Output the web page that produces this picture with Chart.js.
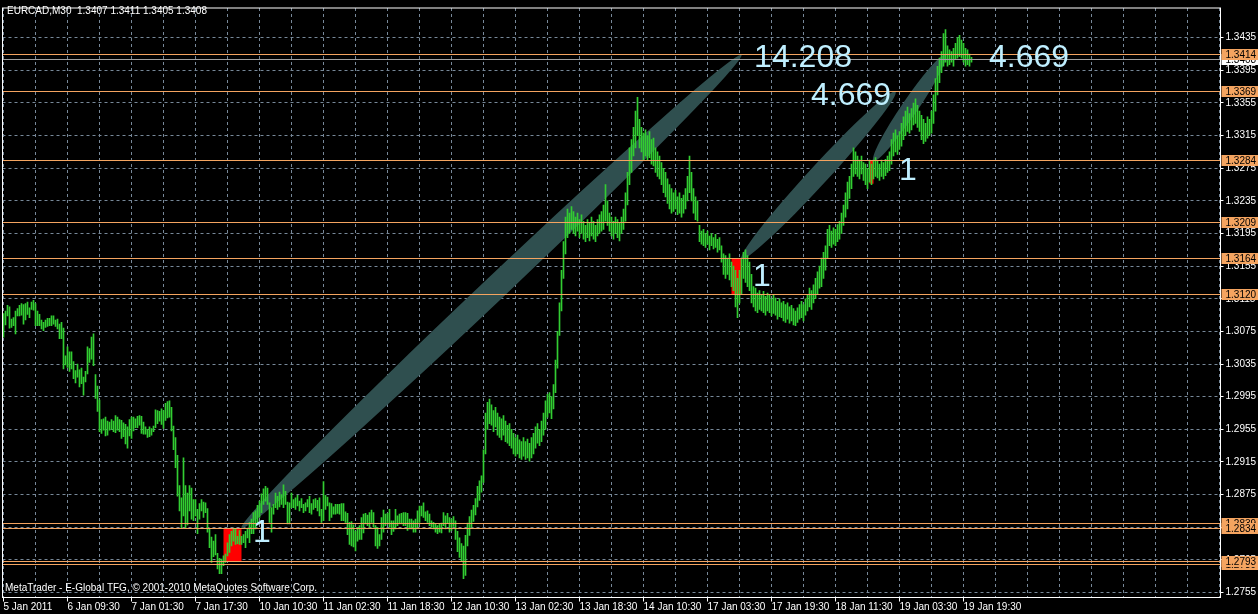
<html>
<head>
<meta charset="UTF-8">
<script src="https://cdn.jsdelivr.net/npm/chart.js@4.4.0/dist/chart.umd.min.js"></script>
<style>
  body { margin: 0; background: #000; }
  canvas { display: block; }
</style>
</head>
<body>
<canvas id="chart" width="1258" height="614"></canvas>
<script>
// EURCAD M30, one slot per bar, empty slots on the right (chart shift)
const slotCount = 609;
const tickLabels = ['5 Jan 2011', '6 Jan 09:30', '7 Jan 01:30', '7 Jan 17:30', '10 Jan 10:30', '11 Jan 02:30',
  '11 Jan 18:30', '12 Jan 10:30', '13 Jan 02:30', '13 Jan 18:30', '14 Jan 10:30', '17 Jan 03:30',
  '17 Jan 19:30', '18 Jan 11:30', '19 Jan 03:30', '19 Jan 19:30'];
const priceTicks = [1.2755, 1.2795, 1.2835, 1.2875, 1.2915, 1.2955, 1.2995, 1.3035, 1.3075, 1.3115,
  1.3155, 1.3195, 1.3235, 1.3275, 1.3315, 1.3355, 1.3395, 1.3435];
const lastQuote = [1.3407, 1.3411, 1.3405, 1.3408];

const highs = [
  1.3097,1.3100,1.3107,1.3105,1.3090,1.3092,1.3100,1.3103,1.3107,1.3109,
  1.3108,1.3109,1.3111,1.3104,1.3111,1.3113,1.3109,1.3100,1.3096,1.3089,
  1.3086,1.3089,1.3091,1.3091,1.3094,1.3094,1.3089,1.3090,1.3084,1.3086,
  1.3079,1.3045,1.3056,1.3050,1.3050,1.3038,1.3027,1.3035,1.3028,1.3030,
  1.3019,1.3026,1.3056,1.3054,1.3068,1.3072,1.3022,1.3008,1.2991,
  1.2967,1.2968,1.2970,1.2965,1.2964,1.2967,1.2965,1.2972,1.2970,1.2967,
  1.2966,1.2963,1.2961,1.2958,1.2967,1.2970,1.2970,1.2968,1.2971,1.2972,
  1.2971,1.2964,1.2958,1.2955,1.2958,1.2956,1.2959,1.2979,1.2978,1.2977,
  1.2980,1.2978,1.2987,1.2989,1.2990,1.2982,1.2959,1.2945,1.2923,1.2886,
  1.2871,1.2920,1.2886,1.2877,1.2886,1.2883,1.2869,1.2869,1.2857,1.2864,
  1.2869,1.2866,1.2865,1.2858,1.2833,1.2823,1.2818,1.2826,1.2803,1.2797,
  1.2796,1.2800,1.2802,1.2816,1.2826,1.2830,1.2834,1.2833,1.2824,1.2831,
  1.2824,1.2826,1.2830,1.2834,1.2841,1.2845,1.2853,1.2855,1.2862,1.2867,
  1.2876,1.2882,1.2885,1.2883,1.2865,1.2859,1.2863,1.2877,1.2873,1.2878,
  1.2875,1.2887,1.2879,1.2866,1.2865,1.2877,1.2869,1.2871,1.2874,1.2867,
  1.2870,1.2863,1.2865,1.2869,1.2873,1.2864,1.2869,1.2870,1.2868,1.2871,
  1.2857,1.2891,1.2874,1.2872,1.2865,1.2864,1.2860,1.2863,1.2863,1.2863,
  1.2864,1.2864,1.2854,1.2852,1.2841,1.2842,1.2838,1.2830,1.2835,1.2837,
  1.2847,1.2851,1.2852,1.2850,1.2853,1.2856,1.2853,1.2837,1.2835,1.2826,
  1.2847,1.2856,1.2851,1.2852,1.2857,1.2843,1.2843,1.2857,1.2849,1.2851,
  1.2852,1.2853,1.2853,1.2852,1.2845,1.2845,1.2843,1.2845,1.2855,1.2861,
  1.2861,1.2865,1.2854,1.2855,1.2851,1.2843,1.2841,1.2839,1.2837,1.2839,
  1.2840,
  1.2853,1.2849,1.2852,1.2847,1.2845,1.2848,1.2843,1.2830,1.2822,1.2815,
  1.2812,1.2825,1.2840,1.2848,1.2856,1.2862,1.2870,1.2885,1.2892,1.2898,
  1.2930,1.2975,1.2988,1.2992,1.2985,1.2978,1.2982,1.2975,1.2970,1.2968,
  1.2972,1.2965,1.2960,1.2962,1.2955,1.2950,1.2945,1.2948,1.2942,1.2940,
  1.2945,1.2940,1.2943,1.2938,1.2945,1.2950,1.2958,1.2962,1.2955,1.2965,
  1.2975,1.2990,1.2998,1.3000,1.2995,1.3010,1.3040,1.3075,1.3110,1.3150,
  1.3185,1.3215,1.3225,1.3220,1.3228,1.3222,1.3215,1.3220,1.3212,1.3218,
  1.3210,1.3205,1.3212,1.3208,1.3215,1.3210,1.3205,1.3212,1.3218,1.3222,
  1.3230,1.3255,1.3235,1.3220,1.3215,1.3210,1.3215,1.3212,1.3208,1.3215,
  1.3225,1.3245,1.3270,1.3300,1.3310,1.3325,1.3345,1.3362,1.3335,1.3325,
  1.3318,1.3322,1.3315,1.3320,1.3310,1.3312,1.3300,1.3295,1.3290,1.3282,
  1.3275,1.3270,1.3262,1.3255,1.3250,1.3245,1.3248,1.3240,1.3245,1.3238,
  1.3242,1.3250,1.3265,1.3290,1.3270,1.3250,1.3240,1.3235,1.3205,1.3198,
  1.3200,1.3195,1.3198,1.3192,1.3195,1.3190,1.3194,1.3188,1.3190,1.3180,
  1.3170,1.3168,1.3165,1.3170,1.3160,1.3155,1.3150,1.3140,1.3150,1.3165,
  1.3172,1.3175,1.3168,1.3160,1.3145,1.3130,1.3128,1.3122,1.3125,1.3120,
  1.3124,1.3118,1.3122,1.3120,1.3115,1.3120,1.3116,1.3112,1.3115,1.3110,
  1.3112,1.3108,1.3110,1.3105,1.3107,1.3103,1.3100,1.3104,1.3108,1.3112,
  1.3108,1.3115,1.3120,1.3128,1.3125,1.3132,1.3140,1.3148,1.3155,1.3165,
  1.3172,1.3180,1.3200,1.3205,1.3198,1.3202,1.3200,1.3206,1.3210,1.3220,
  1.3230,1.3245,1.3258,1.3265,1.3280,1.3300,1.3295,1.3290,1.3285,1.3290,
  1.3282,1.3280,1.3275,1.3285,1.3280,1.3285,1.3288,1.3284,1.3280,1.3285,
  1.3282,1.3286,1.3290,1.3295,1.3310,1.3318,1.3322,1.3315,1.3320,1.3330,
  1.3338,1.3345,1.3350,1.3342,1.3348,1.3355,1.3360,1.3352,1.3345,1.3340,
  1.3335,1.3330,1.3338,1.3335,1.3345,1.3365,1.3385,1.3400,1.3410,1.3418,
  1.3440,1.3445,1.3425,1.3420,1.3418,1.3422,1.3428,1.3435,1.3438,1.3432,
  1.3428,1.3422,1.3420,1.3415,1.3411
];
const lows = [
  1.3068,1.3083,1.3094,1.3079,1.3080,1.3082,1.3072,1.3094,1.3094,1.3095,
  1.3084,1.3089,1.3096,1.3092,1.3102,1.3101,1.3082,1.3082,1.3082,1.3078,
  1.3076,1.3080,1.3081,1.3082,1.3082,1.3084,1.3081,1.3078,1.3066,1.3066,
  1.3029,1.3034,1.3031,1.3026,1.3029,1.3017,1.3012,1.3019,1.3007,1.3011,
  1.2997,1.3013,1.3023,1.3037,1.3041,1.3033,1.2993,1.2977,1.2952,
  1.2950,1.2954,1.2947,1.2948,1.2954,1.2955,1.2952,1.2951,1.2954,1.2952,
  1.2944,1.2946,1.2937,1.2932,1.2947,1.2944,1.2953,1.2957,1.2957,1.2960,
  1.2950,1.2949,1.2949,1.2945,1.2946,1.2948,1.2952,1.2957,1.2962,1.2965,
  1.2961,1.2956,1.2966,1.2969,1.2970,1.2953,1.2930,1.2908,1.2873,1.2855,
  1.2834,1.2849,1.2834,1.2838,1.2855,1.2845,1.2843,1.2849,1.2827,1.2845,
  1.2855,1.2847,1.2853,1.2829,1.2810,1.2792,1.2799,1.2801,1.2784,1.2778,
  1.2778,1.2788,1.2792,1.2800,1.2804,1.2812,1.2818,1.2814,1.2815,1.2814,
  1.2814,1.2816,1.2810,1.2822,1.2816,1.2827,1.2827,1.2833,1.2839,1.2847,
  1.2853,1.2863,1.2867,1.2863,1.2841,1.2829,1.2851,1.2859,1.2857,1.2860,
  1.2863,1.2859,1.2863,1.2839,1.2839,1.2859,1.2859,1.2857,1.2861,1.2855,
  1.2859,1.2853,1.2855,1.2860,1.2853,1.2851,1.2857,1.2859,1.2855,1.2849,
  1.2841,1.2843,1.2857,1.2861,1.2843,1.2847,1.2851,1.2851,1.2852,1.2851,
  1.2843,1.2843,1.2841,1.2826,1.2814,1.2812,1.2811,1.2806,1.2818,1.2820,
  1.2820,1.2828,1.2839,1.2837,1.2835,1.2841,1.2835,1.2812,1.2809,1.2812,
  1.2820,1.2829,1.2837,1.2839,1.2835,1.2826,1.2830,1.2833,1.2837,1.2839,
  1.2839,1.2837,1.2837,1.2831,1.2833,1.2833,1.2829,1.2829,1.2835,1.2841,
  1.2849,1.2847,1.2843,1.2841,1.2837,1.2835,1.2833,1.2829,1.2827,1.2829,
  1.2828,
  1.2837,1.2833,1.2840,1.2829,1.2831,1.2836,1.2820,1.2805,1.2798,1.2793,
  1.2772,1.2776,1.2812,1.2825,1.2835,1.2842,1.2850,1.2860,1.2868,1.2878,
  1.2890,1.2925,1.2955,1.2962,1.2960,1.2952,1.2958,1.2948,1.2945,1.2942,
  1.2948,1.2940,1.2938,1.2935,1.2932,1.2925,1.2922,1.2925,1.2920,1.2918,
  1.2922,1.2918,1.2920,1.2916,1.2920,1.2925,1.2932,1.2938,1.2935,1.2940,
  1.2948,1.2955,1.2970,1.2975,1.2968,1.2980,1.3000,1.3030,1.3070,1.3100,
  1.3140,1.3170,1.3190,1.3195,1.3200,1.3195,1.3192,1.3198,1.3190,1.3195,
  1.3188,1.3185,1.3190,1.3186,1.3192,1.3188,1.3185,1.3192,1.3195,1.3198,
  1.3200,1.3210,1.3205,1.3198,1.3192,1.3188,1.3195,1.3190,1.3186,1.3195,
  1.3200,1.3210,1.3230,1.3255,1.3270,1.3290,1.3300,1.3315,1.3300,1.3295,
  1.3285,1.3290,1.3285,1.3288,1.3280,1.3278,1.3270,1.3265,1.3262,1.3255,
  1.3245,1.3240,1.3232,1.3225,1.3220,1.3222,1.3225,1.3218,1.3220,1.3215,
  1.3220,1.3225,1.3235,1.3245,1.3235,1.3220,1.3212,1.3210,1.3185,1.3182,
  1.3180,1.3178,1.3182,1.3175,1.3180,1.3176,1.3178,1.3172,1.3175,1.3160,
  1.3145,1.3140,1.3145,1.3138,1.3130,1.3125,1.3105,1.3092,1.3110,1.3120,
  1.3140,1.3135,1.3130,1.3125,1.3110,1.3105,1.3100,1.3098,1.3102,1.3100,
  1.3098,1.3095,1.3100,1.3098,1.3094,1.3097,1.3095,1.3090,1.3093,1.3092,
  1.3088,1.3086,1.3090,1.3085,1.3088,1.3083,1.3082,1.3086,1.3090,1.3092,
  1.3088,1.3095,1.3100,1.3105,1.3102,1.3110,1.3115,1.3120,1.3128,1.3130,
  1.3140,1.3150,1.3165,1.3180,1.3178,1.3182,1.3180,1.3185,1.3188,1.3195,
  1.3205,1.3215,1.3225,1.3238,1.3250,1.3265,1.3268,1.3265,1.3262,1.3268,
  1.3260,1.3255,1.3250,1.3258,1.3255,1.3262,1.3265,1.3263,1.3260,1.3265,
  1.3262,1.3266,1.3270,1.3272,1.3280,1.3290,1.3295,1.3292,1.3298,1.3302,
  1.3310,1.3315,1.3320,1.3318,1.3322,1.3328,1.3330,1.3325,1.3320,1.3310,
  1.3305,1.3308,1.3312,1.3315,1.3318,1.3330,1.3345,1.3365,1.3380,1.3392,
  1.3400,1.3405,1.3400,1.3402,1.3405,1.3400,1.3408,1.3410,1.3412,1.3410,
  1.3405,1.3400,1.3402,1.3400,1.3405
];

// horizontal lines drawn on the chart (later ones cover earlier labels)
const levels = [1.3414, 1.3369, 1.3284, 1.3209, 1.3164, 1.3120, 1.2839, 1.2834, 1.2789, 1.2793];
const bidPrice = 1.3408;
// rectangles: [from bar, to bar, top price, bottom price]
const boxes = [[110, 119, 1.2834, 1.2793], [364, 369, 1.3164, 1.3120], [433, 435, 1.3284, 1.3256]];
// ellipses: [bar, price, bar, price] ends of the long axis
const ellipses = [[119, 1.2834, 369, 1.3414], [369, 1.3164, 446, 1.3369], [435, 1.3284, 471, 1.3414]];
const ellipseHalf = [12, 9.5, 8];
// text labels: [text, bar, baseline price]
const notes = [['14.208', 375.3, 1.3399], ['4.669', 403.75, 1.3352], ['4.669', 492.75, 1.3399],
  ['1', 124.75, 1.2817], ['1', 374.75, 1.3131], ['1', 447.75, 1.3260]];

const FONT = 'Liberation Sans';
const GRID = '#778899';

const overlay = {
  id: 'overlay',
  beforeDatasetsDraw(chart) {
    const {ctx, chartArea: a} = chart;
    const x = chart.scales.x, y = chart.scales.y;
    ctx.save();
    ctx.beginPath();
    ctx.rect(a.left, a.top, a.right - a.left, a.bottom - a.top);
    ctx.clip();
    ctx.fillStyle = '#ff0000';
    boxes.forEach(b => {
      const x0 = x.getPixelForValue(b[0]), x1 = x.getPixelForValue(b[1]);
      const y0 = y.getPixelForValue(b[2]), y1 = y.getPixelForValue(b[3]);
      ctx.fillRect(x0, y0, x1 - x0, y1 - y0);
    });
    ctx.fillStyle = '#2f4f4f';
    ellipses.forEach((e, k) => {
      const x1 = x.getPixelForValue(e[0]), y1 = y.getPixelForValue(e[1]);
      const x2 = x.getPixelForValue(e[2]), y2 = y.getPixelForValue(e[3]);
      ctx.beginPath();
      ctx.ellipse((x1 + x2) / 2, (y1 + y2) / 2, Math.hypot(x2 - x1, y2 - y1) / 2, ellipseHalf[k],
        Math.atan2(y2 - y1, x2 - x1), 0, Math.PI * 2);
      ctx.fill();
    });
    ctx.restore();
  },
  afterDatasetsDraw(chart) {
    const {ctx, chartArea: a} = chart;
    const x = chart.scales.x, y = chart.scales.y;
    ctx.save();
    ctx.lineWidth = 1;
    const hline = (p, color) => {
      const py = Math.floor(y.getPixelForValue(p)) + 0.5;
      ctx.strokeStyle = color;
      ctx.beginPath();
      ctx.moveTo(a.left, py);
      ctx.lineTo(a.right, py);
      ctx.stroke();
    };
    hline(bidPrice, '#a0a0a0');
    levels.forEach(p => hline(p, '#f4a460'));

    ctx.fillStyle = '#bfefff';
    ctx.font = '32px ' + FONT;
    ctx.textBaseline = 'alphabetic';
    notes.forEach(n => ctx.fillText(n[0], x.getPixelForValue(n[1]), y.getPixelForValue(n[2])));

    ctx.fillStyle = '#ffffff';
    ctx.font = '10px ' + FONT;
    ctx.fillText('EURCAD,M30  ' + lastQuote.map(v => v.toFixed(4)).join(' '), 7, 14);
    ctx.fillText('MetaTrader - E-Global TFG, \u00a9 2001-2010 MetaQuotes Software Corp.', 5, 591);
    ctx.restore();
  },
  afterDraw(chart) {
    const {ctx, chartArea: a} = chart;
    const y = chart.scales.y;
    ctx.save();
    ctx.strokeStyle = '#ffffff';
    ctx.lineWidth = 1;
    ctx.strokeRect(a.left, a.top, a.right - a.left, a.bottom - a.top);
    ctx.font = '10px ' + FONT;
    ctx.textBaseline = 'middle';
    const tag = (p, bg) => {
      const py = Math.floor(y.getPixelForValue(p));
      ctx.fillStyle = bg;
      ctx.fillRect(a.right + 1, py - 5, 37, 11);
      ctx.fillStyle = '#000000';
      ctx.fillText(p.toFixed(4), a.right + 5, py + 1);
    };
    tag(bidPrice, '#ffffff');
    levels.forEach(p => tag(p, '#f4a460'));
    ctx.restore();
  }
};

new Chart(document.getElementById('chart'), {
  type: 'bar',
  data: {
    labels: Array.from({length: slotCount}, (_, i) => i),
    datasets: [{
      data: lows.map((l, i) => [l, highs[i]]),
      backgroundColor: '#32cd32',
      borderWidth: 0,
      barThickness: 1
    }]
  },
  options: {
    responsive: false,
    animation: false,
    devicePixelRatio: 1,
    events: [],
    layout: {padding: {left: 2.5, top: 2.5, right: 0, bottom: 0}},
    plugins: {legend: {display: false}, tooltip: {enabled: false}},
    scales: {
      x: {
        offset: true,
        afterFit: s => { s.height = 16.5; },
        grid: {
          offset: false,
          color: c => (c.index % 16 === 0 ? GRID : 'rgba(0,0,0,0)'),
          tickLength: 4,
          tickColor: c => (c.index % 32 === 0 && c.index / 32 < tickLabels.length ? '#ffffff' : 'rgba(0,0,0,0)')
        },
        border: {display: false, dash: [3, 3]},
        ticks: {
          autoSkip: false, maxRotation: 0, minRotation: 0, align: 'start', padding: 0,
          color: '#ffffff', font: {family: FONT, size: 10},
          callback: (v, i) => (i % 32 === 0 && tickLabels[i / 32] !== undefined ? tickLabels[i / 32] : '')
        }
      },
      y: {
        position: 'right',
        min: 1.27489,
        max: 1.34714,
        afterBuildTicks: s => { s.ticks = priceTicks.map(v => ({value: v})); },
        afterFit: s => { s.width = 37.5; },
        grid: {color: GRID, tickColor: '#ffffff', tickLength: 3},
        border: {display: false, dash: [3, 3]},
        ticks: {
          color: '#ffffff', font: {family: FONT, size: 10}, padding: 2, crossAlign: 'near',
          callback: v => Number(v).toFixed(4)
        }
      }
    }
  },
  plugins: [overlay]
});
</script>
</body>
</html>
